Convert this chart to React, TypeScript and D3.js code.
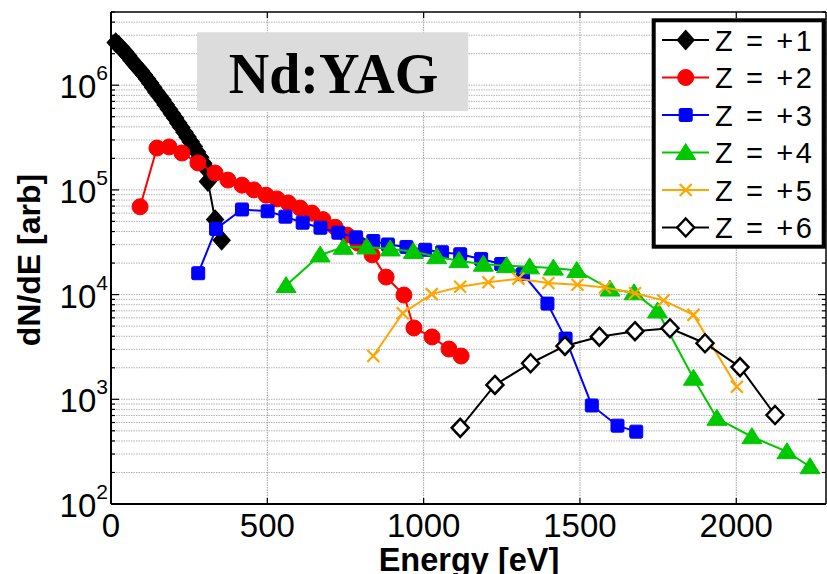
import React from 'react';
import * as d3 from 'd3';

// ---------- data ----------
const z1Energy = [15, 25, 35, 45, 55, 65, 75, 85, 95, 105, 115, 125, 135, 145, 155, 165, 175, 185, 195, 205, 215, 225, 235, 245, 255, 265, 275, 285, 295, 303, 310, 333, 354];
const z1Values = [2.55e6, 2.4e6, 2.22e6, 2.07e6, 1.91e6, 1.74e6, 1.6e6, 1.48e6, 1.37e6, 1.26e6, 1.15e6, 1.05e6, 9.5e5, 8.6e5, 7.9e5, 7.2e5, 6.5e5, 5.9e5, 5.35e5, 4.85e5, 4.36e5, 3.95e5, 3.55e5, 3.2e5, 2.88e5, 2.6e5, 2.3e5, 2.05e5, 1.8e5, 1.62e5, 1.2e5, 5.2e4, 3.3e4];

const z2Energy = [93, 147, 186, 227, 278, 333, 374, 419, 457, 496, 531, 567, 605, 643, 678, 717, 755, 790, 835, 880, 937, 969, 1027, 1081, 1120];
const z2Values = [6.9e4, 2.51e5, 2.57e5, 2.25e5, 1.81e5, 1.45e5, 1.24e5, 1.11e5, 1.0e5, 8.9e4, 8.2e4, 7.5e4, 6.7e4, 6.0e4, 5.2e4, 4.4e4, 3.7e4, 3.1e4, 2.4e4, 1.47e4, 9.9e3, 4.8e3, 3.94e3, 3.02e3, 2.59e3];

const z3Energy = [279, 336, 419, 501, 558, 613, 670, 727, 784, 839, 886, 945, 1005, 1059, 1117, 1184, 1248, 1318, 1396, 1454, 1538, 1620, 1680];
const z3Values = [1.6e4, 4.24e4, 6.5e4, 6.25e4, 5.55e4, 4.86e4, 4.35e4, 3.9e4, 3.52e4, 3.25e4, 3.01e4, 2.85e4, 2.68e4, 2.54e4, 2.43e4, 2.19e4, 1.96e4, 1.57e4, 8.2e3, 3.8e3, 873, 560, 491];

const z4Energy = [560, 669, 743, 818, 893, 967, 1042, 1113, 1191, 1265, 1339, 1415, 1490, 1596, 1673, 1748, 1863, 1938, 2050, 2162, 2236];
const z4Values = [1.22e4, 2.39e4, 2.83e4, 2.85e4, 2.73e4, 2.58e4, 2.3e4, 2.11e4, 1.95e4, 1.89e4, 1.84e4, 1.79e4, 1.7e4, 1.13e4, 1.04e4, 6.97e3, 1.59e3, 658, 439, 316, 227];

const z5Energy = [839, 933, 1026, 1117, 1207, 1303, 1399, 1492, 1580, 1676, 1767, 1863, 2002];
const z5Values = [2.59e3, 6.63e3, 1.01e4, 1.19e4, 1.31e4, 1.42e4, 1.29e4, 1.24e4, 1.17e4, 1.03e4, 8.8e3, 6.4e3, 1.32e3];

const z6Energy = [1117, 1228, 1342, 1452, 1562, 1676, 1788, 1900, 2012, 2124];
const z6Values = [534, 1370, 2210, 3230, 3960, 4470, 4770, 3430, 2030, 708];

const seriesLabels = ['Z = +1', 'Z = +2', 'Z = +3', 'Z = +4', 'Z = +5', 'Z = +6'];
const xTicks = [0, 500, 1000, 1500, 2000];
const yDecades = [2, 3, 4, 5, 6];
const titleText = 'Nd:YAG';
const xLabel = 'Energy [eV]';
const yLabel = 'dN/dE [arb]';

// ---------- layout ----------
const W = 827, H = 574;
const L = 111, R = 826, T = 12, B = 504;
const FONT = '"Liberation Sans", Arial, Helvetica, sans-serif';

const x = d3.scaleLinear().domain([0, 2287]).range([L, R]);
const y = d3.scaleLog().domain([100, 5e6]).range([B, T]);

type MarkerKind = 'diamond' | 'circle' | 'square' | 'triangle' | 'x' | 'odiamond';

const series = [
  { e: z1Energy, v: z1Values, color: '#000000', marker: 'diamond' as MarkerKind },
  { e: z2Energy, v: z2Values, color: '#ff0000', marker: 'circle' as MarkerKind },
  { e: z3Energy, v: z3Values, color: '#0000ff', marker: 'square' as MarkerKind },
  { e: z4Energy, v: z4Values, color: '#00c800', marker: 'triangle' as MarkerKind },
  { e: z5Energy, v: z5Values, color: '#ffa500', marker: 'x' as MarkerKind },
  { e: z6Energy, v: z6Values, color: '#000000', marker: 'odiamond' as MarkerKind },
];

function Marker({ kind, cx, cy, color }: { kind: MarkerKind; cx: number; cy: number; color: string }) {
  switch (kind) {
    case 'diamond':
      return <path d={`M${cx},${cy - 9.5}L${cx + 8.5},${cy}L${cx},${cy + 9.5}L${cx - 8.5},${cy}Z`} fill={color} stroke={color} strokeWidth={1.2} />;
    case 'circle':
      return <circle cx={cx} cy={cy} r={8} fill={color} stroke={color} strokeWidth={1} />;
    case 'square':
      return <rect x={cx - 6.5} y={cy - 6.5} width={13} height={13} rx={1.5} fill={color} stroke={color} strokeWidth={1} />;
    case 'triangle':
      return <path d={`M${cx},${cy - 9}L${cx + 10},${cy + 7}L${cx - 10},${cy + 7}Z`} fill={color} stroke={color} strokeWidth={1} />;
    case 'x':
      return <path d={`M${cx - 6},${cy - 6}L${cx + 6},${cy + 6}M${cx - 6},${cy + 6}L${cx + 6},${cy - 6}`} stroke={color} strokeWidth={2.2} fill="none" />;
    case 'odiamond':
      return <path d={`M${cx},${cy - 9}L${cx + 8.5},${cy}L${cx},${cy + 9}L${cx - 8.5},${cy}Z`} fill="#ffffff" stroke={color} strokeWidth={2.5} strokeLinejoin="miter" />;
  }
  return null;
}

export default function App() {
  const line = d3.line<[number, number]>().x(d => x(d[0])).y(d => y(d[1]));

  const minorVals: number[] = [];
  yDecades.forEach(d => {
    for (let k = 1; k <= 9; k++) {
      const v = k * Math.pow(10, d);
      if (v > 100 && v < 5e6) minorVals.push(v);
    }
  });
  const allTickVals: number[] = [];
  yDecades.forEach(d => {
    for (let k = 1; k <= 9; k++) {
      const v = k * Math.pow(10, d);
      if (v >= 100 && v <= 5e6) allTickVals.push(v);
    }
  });

  const legX0 = 653.7, legY0 = 20.3, legW = 170, legH = 226.4;
  const legRow0 = 40, legStep = 37.5;

  return (
    <svg width={W} height={H} style={{ position: 'absolute', left: 0, top: 0, display: 'block', background: '#fff' }}>
      <rect x={0} y={0} width={W} height={H} fill="#ffffff" />
      {/* grid */}
      <g>
        {minorVals.map((v, i) => (
          <line key={'h' + i} x1={L} x2={R} y1={y(v)} y2={y(v)} stroke="#b4b4b4" strokeWidth={1} strokeDasharray="1.5,1" />
        ))}
        {xTicks.filter(t => t > 0).map(t => (
          <line key={'v' + t} x1={x(t)} x2={x(t)} y1={T} y2={B} stroke="#a0a0a0" strokeWidth={1} strokeDasharray="1.5,1" />
        ))}
      </g>

      {/* ticks */}
      <g stroke="#000" strokeWidth={1.2}>
        {allTickVals.map((v, i) => {
          const major = Math.abs(Math.log10(v) - Math.round(Math.log10(v))) < 1e-9;
          const len = major ? 8 : 4;
          return (
            <g key={'yt' + i}>
              <line x1={L} x2={L + len} y1={y(v)} y2={y(v)} />
              <line x1={R} x2={R - len} y1={y(v)} y2={y(v)} />
            </g>
          );
        })}
        {xTicks.filter(t => t > 0).map(t => (
          <g key={'xt' + t}>
            <line x1={x(t)} x2={x(t)} y1={B} y2={B - 6} />
            <line x1={x(t)} x2={x(t)} y1={T} y2={T + 6} />
          </g>
        ))}
      </g>

      {/* frame */}
      <line x1={L} x2={R} y1={T} y2={T} stroke="#000" strokeWidth={1.5} />
      <line x1={R} x2={R} y1={T} y2={B} stroke="#000" strokeWidth={1.5} />
      <line x1={L} x2={L} y1={T} y2={B} stroke="#000" strokeWidth={2} />
      <line x1={L} x2={R} y1={B} y2={B} stroke="#000" strokeWidth={2} />

      {/* title box */}
      <rect x={197} y={32.3} width={271.3} height={78.7} fill="#dcdcdc" />
      <text x={333.5} y={93} textAnchor="middle" fontFamily='"Liberation Serif", "DejaVu Serif", serif' fontWeight="bold" fontSize={56} fill="#000">{titleText}</text>

      {/* series */}
      {series.map((s, si) => {
        const pts: [number, number][] = s.e.map((e, i) => [e, s.v[i]]);
        return (
          <g key={'s' + si}>
            <path d={line(pts) || ''} fill="none" stroke={s.color} strokeWidth={2} />
            {pts.map((p, i) => (
              <Marker key={i} kind={s.marker} cx={x(p[0])} cy={y(p[1])} color={s.color} />
            ))}
          </g>
        );
      })}

      {/* tick labels */}
      <g fontFamily={FONT} fill="#000">
        {xTicks.map(t => (
          <text key={'xl' + t} x={x(t)} y={537} textAnchor="middle" fontSize={33}>{t}</text>
        ))}
        {yDecades.map(d => (
          <text key={'yl' + d} x={108} y={y(Math.pow(10, d)) + 13} textAnchor="end" fontSize={33}>
            10<tspan fontSize={21} dy={-18}>{d}</tspan>
          </text>
        ))}
      </g>

      {/* axis labels */}
      <text x={469} y={571} textAnchor="middle" fontFamily={FONT} fontWeight="bold" fontSize={32.5} fill="#000">{xLabel}</text>
      <text transform={`translate(40,260) rotate(-90)`} textAnchor="middle" fontFamily={FONT} fontWeight="bold" fontSize={32} fill="#000">{yLabel}</text>

      {/* legend */}
      <rect x={legX0} y={legY0} width={legW} height={legH} fill="#ffffff" stroke="#000" strokeWidth={4} />
      {series.map((s, i) => {
        const cy = legRow0 + i * legStep;
        return (
          <g key={'lg' + i}>
            <line x1={662} x2={709} y1={cy} y2={cy} stroke={s.color} strokeWidth={2} />
            <Marker kind={s.marker} cx={685.7} cy={cy} color={s.color} />
            <text x={715} y={cy + 10.5} fontFamily={FONT} fontSize={29} fill="#000" textLength={97} lengthAdjust="spacing">{seriesLabels[i]}</text>
          </g>
        );
      })}
    </svg>
  );
}
